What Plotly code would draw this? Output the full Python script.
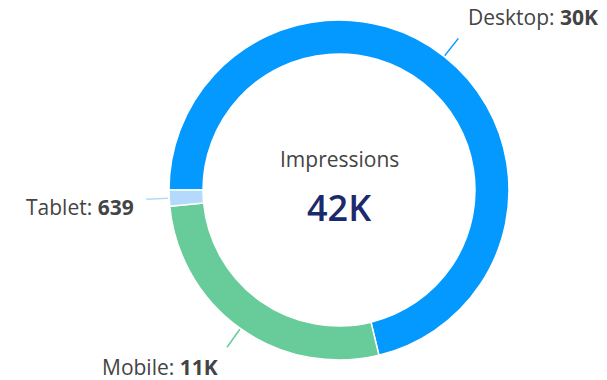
import math
import plotly.graph_objects as go

# ---- data ----
categories = ["Desktop", "Mobile", "Tablet"]
values = [29800, 11400, 639]
colors = ["#0399FE", "#67CB9A", "#B3DAFB"]
center_title = "Impressions"

W, H = 607, 380
CX, CY, R = 339, 190, 170   # donut centre / radius in px
HOLE = 0.80
FONT = "Open Sans"


def fmt(v):
    if v >= 1000:
        return f"{round(v / 1000)}K"
    return f"{v}"


total = sum(values)

fig = go.Figure(go.Pie(
    labels=categories,
    values=values,
    marker=dict(colors=colors, line=dict(color="white", width=1.5)),
    hole=HOLE,
    sort=False,
    direction="clockwise",
    rotation=-90,
    textinfo="none",
    hoverinfo="label+value",
    showlegend=False,
    domain=dict(x=[(CX - R) / W, (CX + R) / W], y=[1 - (CY + R) / H, 1 - (CY - R) / H]),
))


def px(x):
    return x / W


def py(y):
    return 1 - y / H


# leader lines + labels, placed from each slice's mid angle
label_offsets = [(8, -21, "left"), (-7, 20, "right"), (-10, 8, "right")]
start_angle = 270.0  # compass degrees (9 o'clock)
acc = 0.0
shapes, annotations = [], []
for cat, v, col, (ox, oy, anchor) in zip(categories, values, colors, label_offsets):
    mid = start_angle + (acc + v / 2) / total * 360.0
    acc += v
    a = math.radians(mid)
    sx, sy = math.sin(a), -math.cos(a)
    x0, y0 = CX + sx * (R + 1), CY + sy * (R + 1)
    x1, y1 = CX + sx * (R + 23), CY + sy * (R + 23)
    shapes.append(dict(type="line", xref="paper", yref="paper",
                       x0=px(x0), y0=py(y0), x1=px(x1), y1=py(y1),
                       line=dict(color=col, width=1.5)))
    annotations.append(dict(
        x=px(x1 + ox), y=py(y1 + oy), xref="paper", yref="paper",
        text=f"{cat}: <b>{fmt(v)}</b>", showarrow=False,
        xanchor=anchor, yanchor="middle",
        font=dict(family=FONT, size=21, color="#444444"),
    ))

annotations.append(dict(x=px(CX), y=py(159), xref="paper", yref="paper",
                        text=center_title, showarrow=False,
                        font=dict(family=FONT, size=21, color="#444444")))
annotations.append(dict(x=px(CX), y=py(207), xref="paper", yref="paper",
                        text=fmt(total), showarrow=False,
                        font=dict(family=FONT, size=36, color="#1B2A6B", weight=600)))

fig.update_layout(
    width=W, height=H,
    margin=dict(l=0, r=0, t=0, b=0),
    paper_bgcolor="white",
    plot_bgcolor="white",
    shapes=shapes,
    annotations=annotations,
)

fig.write_html("out.html")
